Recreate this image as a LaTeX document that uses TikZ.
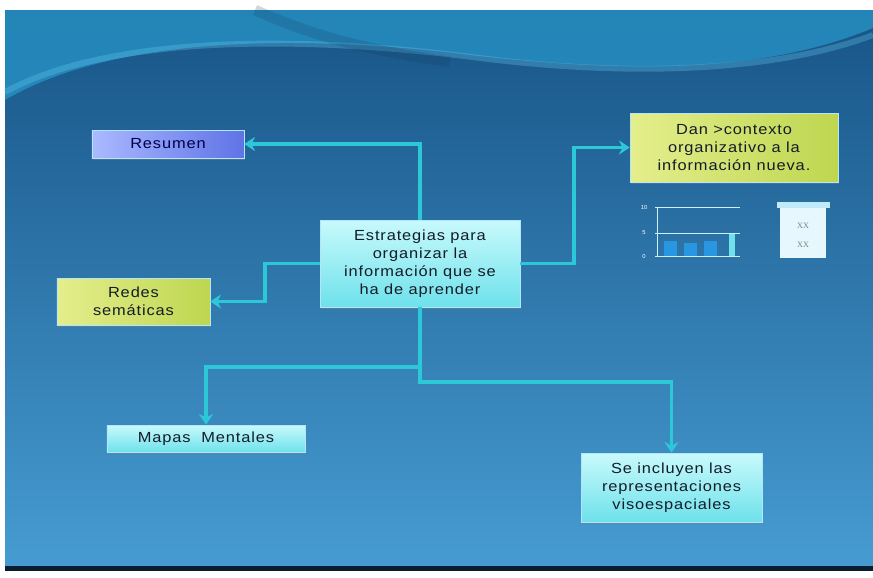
\documentclass[tikz,border=0pt]{standalone}
\usepackage{fontspec}
\setmainfont{Liberation Sans}
\newfontfamily\slidefont[FakeStretch=1.12,LetterSpace=6]{Liberation Sans}
\newfontfamily\iconfont{Liberation Serif}
\usetikzlibrary{positioning,arrows.meta,shadows}

\definecolor{slidetop}{RGB}{24,84,134}
\definecolor{slidebot}{RGB}{70,156,210}
\definecolor{wavecyan}{RGB}{40,150,200}
\definecolor{linkcyan}{RGB}{45,200,215}
\definecolor{boxtext}{RGB}{20,28,40}
\definecolor{aqualight}{RGB}{200,250,252}
\definecolor{aquadark}{RGB}{110,225,235}
\definecolor{limelight}{RGB}{228,238,140}
\definecolor{limedark}{RGB}{190,214,80}
\definecolor{bluelight}{RGB}{170,185,255}
\definecolor{bluedark}{RGB}{95,115,230}
\definecolor{barblue}{RGB}{40,150,225}

\begin{document}
\begin{tikzpicture}[
  x=0.03cm, y=-0.03cm,
  box/.style={rectangle, draw=white!70!cyan, line width=0.5pt,
              align=center, inner sep=2pt, text=boxtext,
              font=\slidefont\fontsize{12.5}{15.3}\selectfont,
              drop shadow={shadow xshift=1pt, shadow yshift=-1.5pt, opacity=0.45}},
  aquabox/.style={box, top color=aqualight, bottom color=aquadark},
  limebox/.style={box, left color=limelight, right color=limedark},
  bluebox/.style={box, left color=bluelight, right color=bluedark, text=blue!30!black},
  link/.style={line width=3.2pt, linkcyan, -{Stealth[length=3.2mm, width=4.2mm]}},
  ticklabel/.style={font=\fontsize{5}{5}\selectfont, text=white, inner sep=0pt},
  docmark/.style={font=\iconfont\fontsize{7}{7}\selectfont, text=gray, inner sep=0pt},
]
\useasboundingbox (0,0) rectangle (873,577);

% Slide background
\fill[white] (0,0) rectangle (873,577);
\shade[top color=slidetop, bottom color=slidebot] (5,10) rectangle (873,568);
\fill[wavecyan, opacity=0.75] (5,10) -- (873,10) -- (873,28)
  .. controls (760,75) and (620,72) .. (470,55)
  .. controls (320,36) and (120,32) .. (5,100) -- cycle;
\draw[line width=5pt, white!40!cyan, opacity=0.3] (5,92)
  .. controls (110,35) and (300,35) .. (480,58)
  .. controls (640,78) and (780,70) .. (873,35);
\draw[line width=9pt, slidetop!70!black, opacity=0.2] (255,10)
  .. controls (300,30) and (350,48) .. (450,62);
\fill[slidetop!35!black] (5,566) rectangle (873,571);

% Boxes
\node[aquabox, minimum width=6cm, minimum height=2.61cm] (central) at (420,263.5)
  {Estrategias para\\organizar la\\información que se\\ha de aprender};
\node[bluebox, minimum width=4.56cm, minimum height=0.84cm] (resumen) at (168,144) {Resumen};
\node[limebox, minimum width=6.24cm, minimum height=2.07cm] (dan) at (734,147.5)
  {Dan >contexto\\organizativo a la\\información nueva.};
\node[limebox, minimum width=4.59cm, minimum height=1.41cm] (redes) at (133.5,301.5)
  {Redes\\semáticas};
\node[aquabox, minimum width=5.94cm, minimum height=0.81cm] (mapas) at (206,438.5)
  {Mapas~ Mentales};
\node[aquabox, minimum width=5.43cm, minimum height=2.07cm] (incluyen) at (671.5,487.5)
  {Se incluyen las\\representaciones\\visoespaciales};

% Bend points
\coordinate (rbend) at (265,263.5);
\coordinate (dbend) at (574,263.5);
\coordinate (mbend) at (420,367);
\coordinate (sbend) at (420,382);

% Connectors
\draw[link] (central.north) |- (resumen.east);
\draw[link] (central.west) -- (rbend) |- (redes.east);
\draw[link] (central.east) -- (dbend) |- (dan.west);
\draw[link] (central.south) -- (mbend) -| (mapas.north);
\draw[link] (mbend) -- (sbend) -| (incluyen.north);

% Chart icon
\fill[barblue] (664,241) rectangle (677,256);
\fill[barblue] (684,243) rectangle (697,256);
\fill[barblue] (704,241) rectangle (717,256);
\fill[aquadark] (729,233) rectangle (735,256);
\draw[white!80!cyan, line width=0.8pt] (655,207) -- (740,207);
\draw[white!80!cyan, line width=0.8pt] (655,233) -- (740,233);
\draw[white!80!cyan, line width=0.8pt] (655,256) -- (740,256);
\draw[white!80!cyan, line width=0.8pt] (657,207) -- (657,256);
\node[ticklabel] (tick10) at (644,207) {10};
\node[ticklabel] (tick5) at (644,233) {5};
\node[ticklabel] (tick0) at (644,256) {0};

% Document icon
\fill[white!75!cyan] (777,202) rectangle (830,208);
\fill[white!90!cyan] (780,208) rectangle (826,258);
\node[docmark] (doc1) at (803,226) {XX};
\node[docmark] (doc2) at (803,245) {XX};

\end{tikzpicture}
\end{document}
